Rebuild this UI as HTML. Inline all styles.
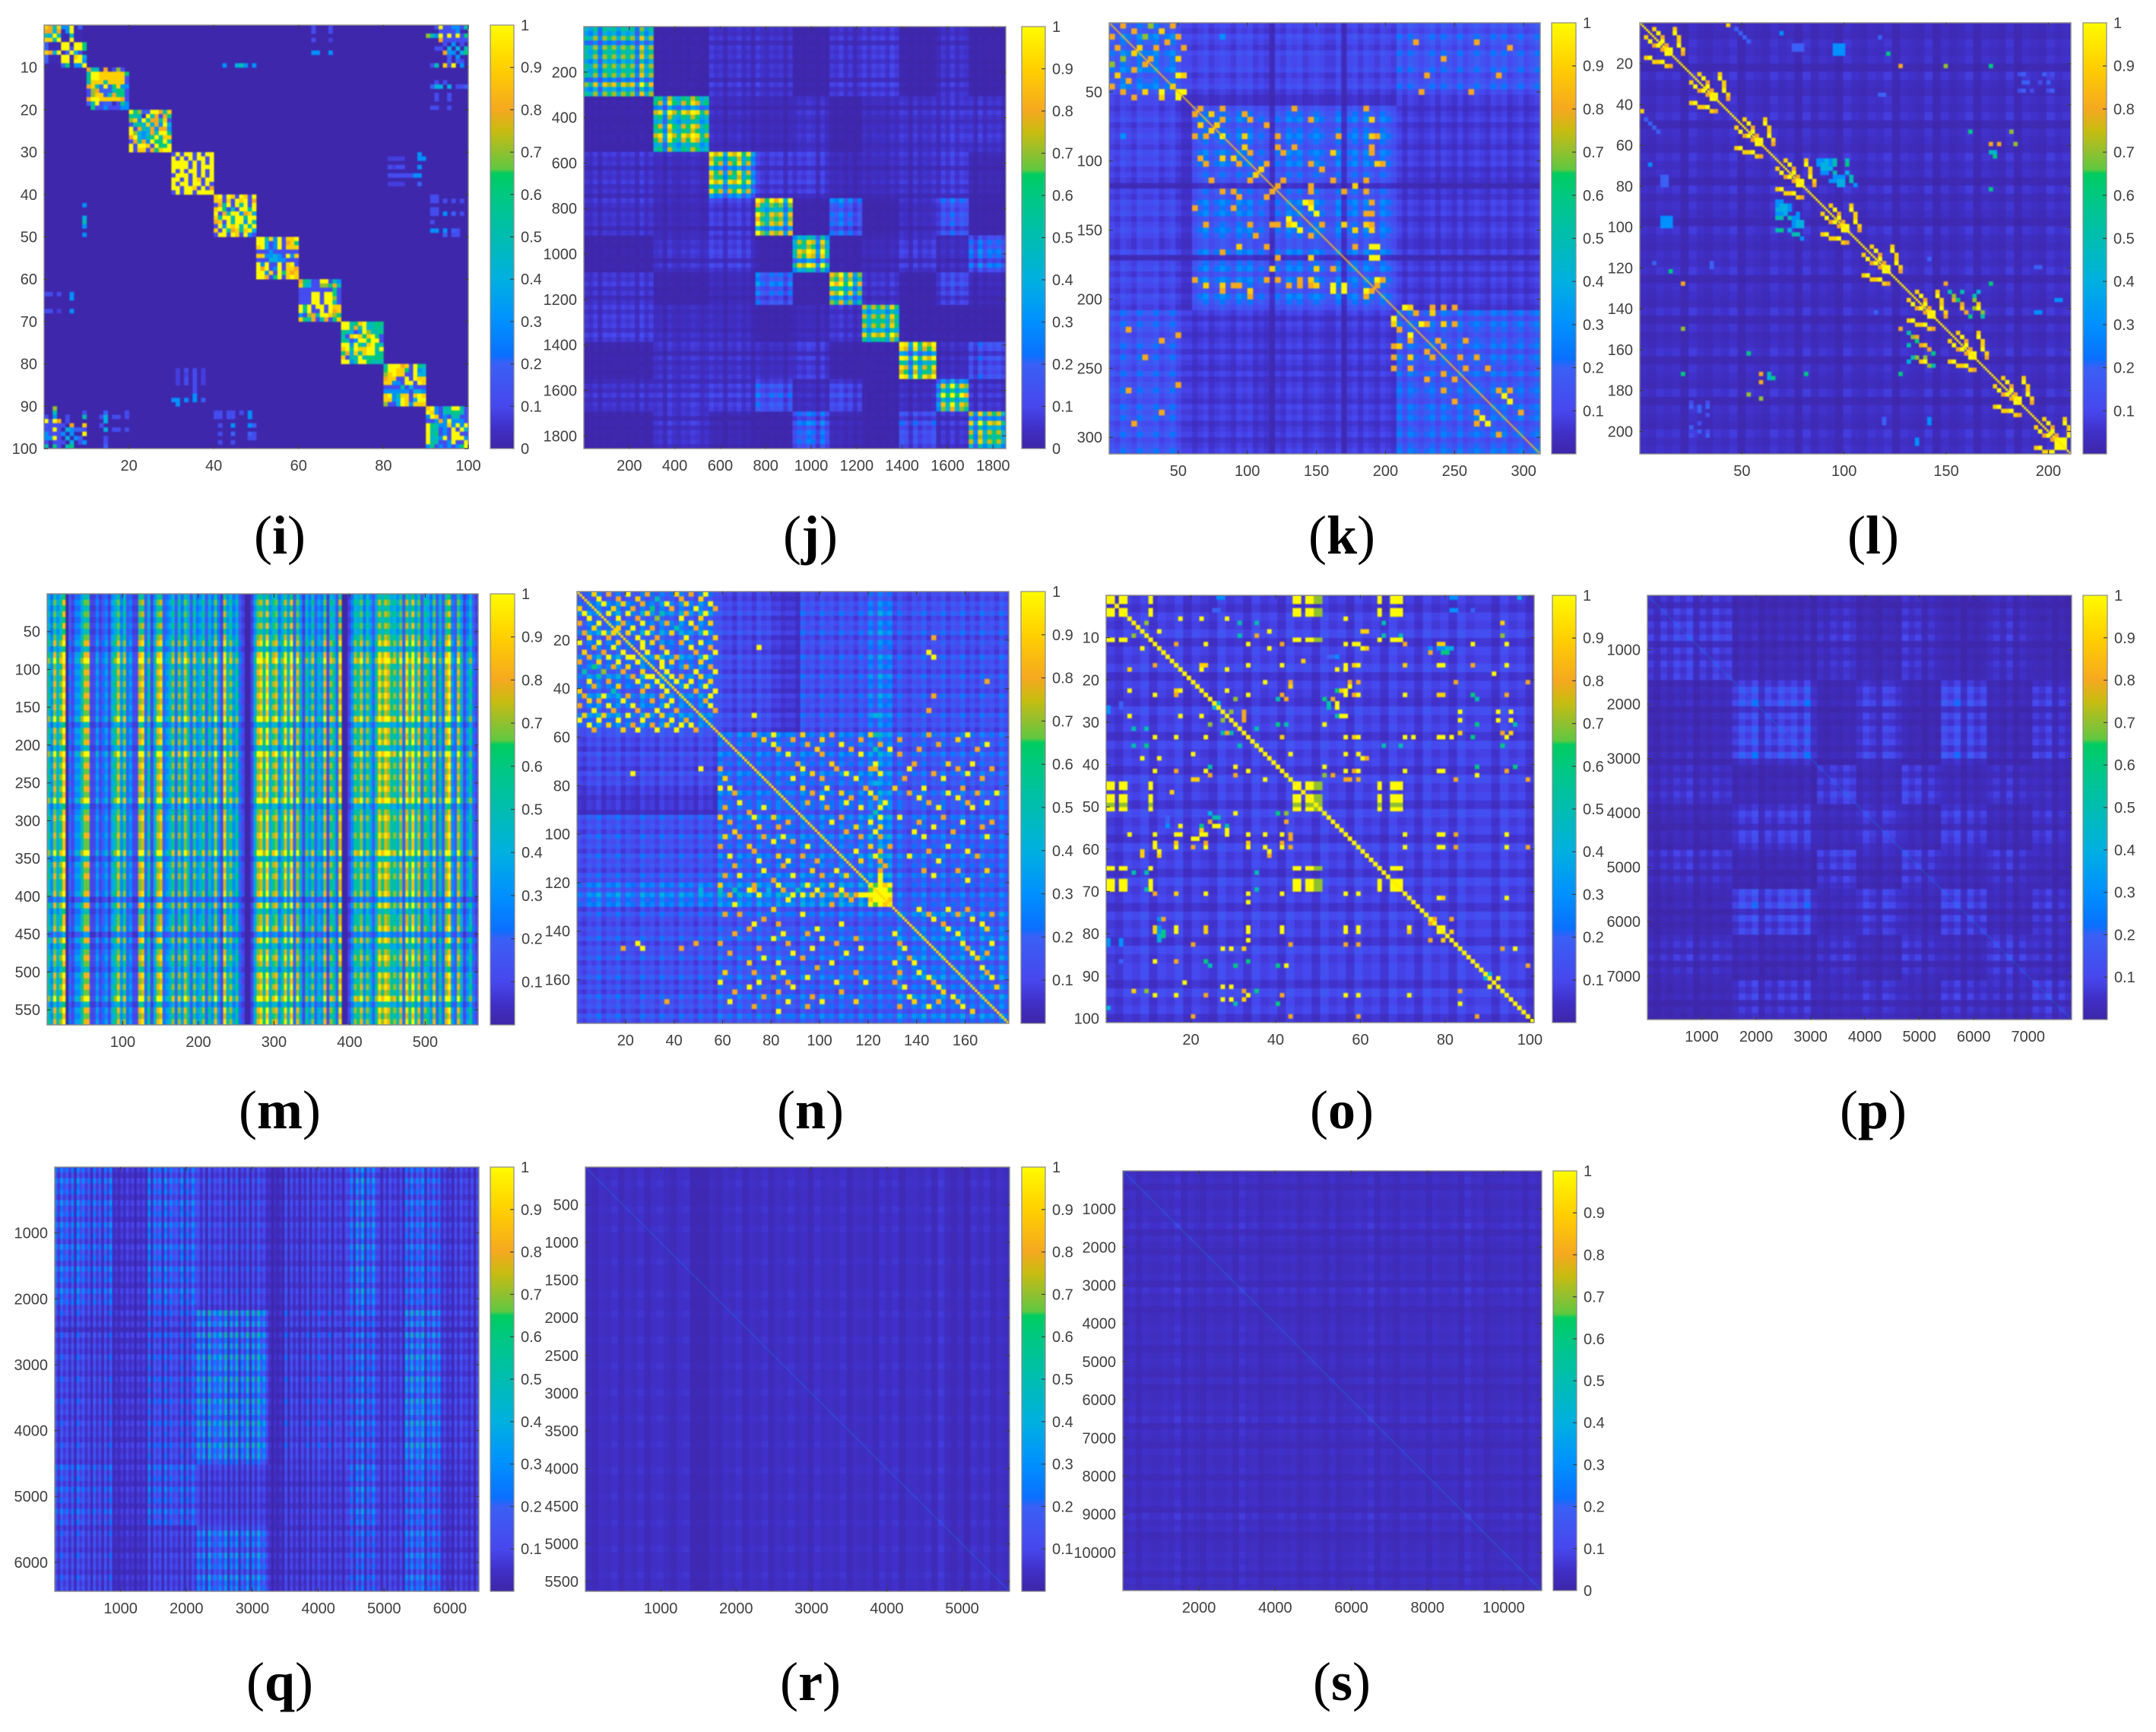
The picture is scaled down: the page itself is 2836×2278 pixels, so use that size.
<!DOCTYPE html>
<html>
<head>
<meta charset="utf-8">
<title>Similarity matrices (i)–(s)</title>
<style>
html,body{margin:0;padding:0;background:#fff;}
svg{display:block;}
.tick{font-family:"Liberation Sans",Arial,sans-serif;font-size:20px;fill:#404040;}
.cap{font-family:"Liberation Serif","Times New Roman",serif;font-size:72px;fill:#000;text-anchor:middle;}
.cap tspan.l{font-weight:bold;}
</style>
</head>
<body>
<svg id="figure" xmlns="http://www.w3.org/2000/svg" width="2836" height="2278" viewBox="0 0 2836 2278">
<defs>
<filter id="soft" x="-2%" y="-2%" width="104%" height="104%" color-interpolation-filters="sRGB"><feGaussianBlur stdDeviation="0.9"/></filter>
<linearGradient id="parulaBar" x1="0" y1="1" x2="0" y2="0"></linearGradient>
</defs>
<rect width="2836" height="2278" fill="#fff"/>
<text class="cap" x="368" y="728">(<tspan class="l">i</tspan>)</text>
<text class="cap" x="1066" y="728">(<tspan class="l">j</tspan>)</text>
<text class="cap" x="1765" y="728">(<tspan class="l">k</tspan>)</text>
<text class="cap" x="2464" y="728">(<tspan class="l">l</tspan>)</text>
<text class="cap" x="368" y="1484">(<tspan class="l">m</tspan>)</text>
<text class="cap" x="1066" y="1484">(<tspan class="l">n</tspan>)</text>
<text class="cap" x="1765" y="1484">(<tspan class="l">o</tspan>)</text>
<text class="cap" x="2464" y="1484">(<tspan class="l">p</tspan>)</text>
<text class="cap" x="368" y="2236">(<tspan class="l">q</tspan>)</text>
<text class="cap" x="1066" y="2236">(<tspan class="l">r</tspan>)</text>
<text class="cap" x="1765" y="2236">(<tspan class="l">s</tspan>)</text>
</svg>
<script>
/* ---------- value levels used by the sparse cell rows ---------- */
const levelChars = '0123456789abc';
const levelValues = [.02,.05,.08,.12,.2,.3,.4,.5,.6,.7,.8,.9,1];

/* ---------- tick labels ---------- */
const colorTicksFull = ['0','0.1','0.2','0.3','0.4','0.5','0.6','0.7','0.8','0.9','1'];
const colorTicksNoZero = ['0.1','0.2','0.3','0.4','0.5','0.6','0.7','0.8','0.9','1'];
const xTicksI = [20,40,60,80,100];
const yTicksI = [10,20,30,40,50,60,70,80,90,100];
const xTicksJ = [200,400,600,800,1000,1200,1400,1600,1800];
const yTicksJ = [200,400,600,800,1000,1200,1400,1600,1800];
const xTicksK = [50,100,150,200,250,300];
const yTicksK = [50,100,150,200,250,300];
const xTicksL = [50,100,150,200];
const yTicksL = [20,40,60,80,100,120,140,160,180,200];
const xTicksM = [100,200,300,400,500];
const yTicksM = [50,100,150,200,250,300,350,400,450,500,550];
const xTicksN = [20,40,60,80,100,120,140,160];
const yTicksN = [20,40,60,80,100,120,140,160];
const xTicksO = [20,40,60,80,100];
const yTicksO = [10,20,30,40,50,60,70,80,90,100];
const xTicksP = [1000,2000,3000,4000,5000,6000,7000];
const yTicksP = [1000,2000,3000,4000,5000,6000,7000];
const xTicksQ = [1000,2000,3000,4000,5000,6000];
const yTicksQ = [1000,2000,3000,4000,5000,6000];
const xTicksR = [1000,2000,3000,4000,5000];
const yTicksR = [500,1000,1500,2000,2500,3000,3500,4000,4500,5000,5500];
const xTicksS = [2000,4000,6000,8000,10000];
const yTicksS = [1000,2000,3000,4000,5000,6000,7000,8000,9000,10000];

/* ---------- panel (i): explicit cells, "column:values" segments per row ---------- */
const cellsI = [
"0:ba7b55c04 63:3 67:3 92:3c335537","0:aa6a05c 63:3 67:3 93:33335","0:76c7007 90:975c3c3c38","0:bb7c00c 63:3 67:2 93:a3333338",
"0:4000cc0cc8 94:3 96:5 98:3","0:4000cc3cc8 92:33 95:6 97:6 99:7","0:ba6c04c63 63:55 67:5 94:a5 96:5 98:6 99:8","0:4000cc0bc6 95:4 97:5",
"0:4000cc0cc5 95:4 97:4 98:3","4:48 7:55c 42:5 45:67 47:5 49:5 91:37 94:b3 96:c 98:5",
"10:a770a0393","10:7ccbbbbbb8","10:8ccbbbbbb3","10:7bbb7bbbb3 92:3 94:3","10:ab74c48b55 91:466 95:6 97:33 99:4","10:39a4447883","10:39bb47a883 92:3 95:3","10:accbbbbba3 92:3 95:3","10:47c3440385","19:5 91:33 95:3",
"20:c8944cca7b","20:8770c7a3a8","20:9b5c7aa7b3","20:3786b6a5c6","20:c3a76a5aa5","20:c9656a7cc8","20:ac6578c7bb","20:3a7a5c88c7","20:c3ccb3c88c","20:c3bb3a8bcc",
"30:3c3cc3c3cc 88:5","30:c3c3c3cc3c 81:2222 88:55","30:cccc3c3c3c","30:cccc3c3ccc 81:3233 88:5","30:c3c3cc3c3c","30:3ccc3c3c3c 81:333333 87:5 88:5","30:cc3c3cb3cc","30:c3cc3cc3c3 81:2222 88:4","30:cc3ccb3c3a","30:3c3cc3cccc",
"40:bc3cb3cb3c 91:33","40:bb3b3cbc3a 91:33 94:3 96:3 98:3","40:3a7c3c7c3c","40:bc8373cc7c 91:33","40:c3a7cc5ab6 91:33 94:5 96:4 98:3","40:b7cc7cc7cc","40:ab3c7cc5c7 91:3","40:3c5cbc7c7c","40:b3c7ab7bc6 91:55 94:5 96:4 97:3","40:3cc3cb3c53 94:4 96:3 97:3",
"50:cc7b5c3bbc","50:cc635c3ab8","50:bc635c3bbb","50:3335333333","50:bb55653c5b","50:3336655333","50:c5c33c3bc3","50:cac35c3bba","50:cc5b3c8bab","50:cca38c3bcb",
"60:a8733cc375","60:b7633998a7","60:3333333383","60:333cc3cc83","60:333cc3cc93","60:333cc3cc73","60:c8c3cc3cbb","60:c7c33c3cab","60:539a7ccb98","60:b87a37a38b",
"70:cc78bc7788","70:cc7a7c6787","70:87635c9778","70:73bcb8bc83","70:8735cc8cc3","70:cc5c86bc87","70:bc7cbbcc7c","70:8a6b7bcc78","70:b377c78888","70:cc57cc8777",
"80:7cccab3c87","80:8ccbb83c56","80:9bcbb33c66","80:abb33c3cbb","80:bb553cc3cb","80:3333736333","80:5555553665","80:bc57bb3bcb","80:bb56cb36cc","80:9336cb5bbb",
"90:bc5377cc73","90:cb53778873","90:5cb3537733","90:335a5c5553","90:c8755b5c5c","90:c77353c3c6","90:c78353cc33","90:c675c3ccc5","90:c77335c33c","90:583535358c"
];

/* ---------- panel (j): block means and stripe profile ---------- */
const edgesJ = [0,310,560,745,910,1080,1225,1390,1550,1690,1856];
const meansJ = [
[.46,.008,.045,.045,.008,.05,.06,.008,.045,.008],
[.008,.5,.03,.022,.038,.008,.03,.038,.05,.045],
[.045,.03,.5,.06,.06,.022,.03,.038,.06,.015],
[.045,.022,.06,.55,.008,.16,.008,.03,.13,.008],
[.008,.038,.06,.008,.48,.008,.022,.05,.03,.15],
[.05,.008,.022,.16,.008,.55,.045,.008,.09,.022],
[.06,.03,.03,.008,.022,.045,.48,.008,.008,.008],
[.008,.038,.038,.03,.05,.008,.008,.5,.03,.1],
[.045,.05,.06,.13,.03,.09,.008,.03,.55,.05],
[.008,.045,.015,.008,.15,.022,.008,.1,.05,.48]];
const stripesJ = "4352545354526354526435465346452546352643545253546526354635245354536465263546253635452635453";

/* ---------- panel (k) ---------- */
const edgesK = [0,60,210,312];
const meansK = [[.2,.1,.15],[.1,.19,.07],[.15,.07,.17]];
const stripesK = "435435445345322345345435453431435453454335145354354353543453543534543545345345";
const cellsK = [
"2:a 7:9 11:a","4:a 9:b","6:9 12:a 20:5","10:a 55:a 66:a","5:b 8:a 13:a 72:a","","7:a 12:b 60:a","","","12:c 13:b 57:a 70:a",
"","11:b","12:c 13:c 56:a 65:a","","","16:a 20:a 33:a 46:a","18:b 24:a","20:a 25:a 36:a 47:b","19:b 28:a","",
"20:c 24:b 30:a 41:a 47:b 48:a","","24:b 30:a 33:a 47:a","25:a 31:a 40:b 47:a","","28:a 36:a 48:b 49:a","27:b 38:a","",
"31:a 40:a 46:a","30:a 36:a 44:b","36:a 42:a 46:a","","35:c 36:b 47:a","36:c","37:c 46:a 47:a","","38:a 42:b 46:b 47:a",
"44:b 47:b","","","44:a 47:c 48:c","","47:c 48:c","","","","48:c 49:a","48:a","","","",
"53:c 54:b 58:a 60:a 62:a","55:a 58:b","","56:c 57:a 60:b 62:a","","","59:a 64:a","60:a","","63:a 66:a","","64:a 68:a","","","",
"70:a 72:a","71:c","72:c","","74:a","","",""
];

/* ---------- panel (l) ---------- */
const edgesL = [0,211];
const meansL = [[.035]];
const stripesL = "43545264354625436452635426435462543625346254362543645";
const cellsL = [
"21:b","3:b 8:b 23:4","4:c 8:c 24:4 34:5","5:a 9:b 25:4 58:4","5:c 9:b 26:4","6:a 9:c 37:444 47:555","6:cc 10:b 37:444 47:555","7:c 10:a 47:555 60:8","","",
"63:a 74:9 85:8","","14:b 19:b 92:34 98:4 100:3","15:c 19:c","16:a 20:b 93:44 97:3 99:4","16:c 20:b","17:a 20:c 92:34 95:3 99:34","17:cc 21:b 58:44","18:c 21:a","",
"","","","25:b 30:b","26:c 30:c","27:a 31:b","27:c 31:b 80:8 90:9","28:a 31:c","28:cc 32:b","29:c 32:a 85:a 87:a 91:9",
"","85:7 86:6","86:8","35:b 40:b 43:5565 47:7 50:7","36:c 40:c 43:5665 47:7 50:8","37:a 41:b 44:666","37:c 41:b 44:55 47:7 50:6","38:a 41:c 47:5 48:55 51:7","38:cc 42:b 46:5 47:5 48:66 51:7","39:c 42:a 48:66 52:5",
"85:8","","","","46:b 51:b","47:c 51:c","48:a 52:b","48:c 52:b","49:a 52:c","49:cc 53:b",
"50:c 53:a","","","","56:b 61:b","57:c 61:c","58:a 62:b","58:c 62:b 70:4","59:a 62:c","59:cc 63:b 96:44",
"60:c 63:a","","","74:a 85:8","","67:b 72:b 75:7 78:7 82:6","68:c 72:c 76:9 81:7","69:a 73:b 76:a 77:8 81:9 101:55","69:c 73:b 78:a 82:b","70:a 73:c 78:b 81:9 82:c",
"70:cc 74:b 79:a 83:9 96:55","71:c 74:a 80:8 83:7","","","","77:b 82:b","78:c 82:c","79:a 83:b","79:c 83:b","80:a 83:c",
"80:cc 84:b","81:c 84:a","","","","","88:b 93:b","89:c 93:c","90:a 94:b","90:c 94:b",
"91:a 94:c","91:cc 95:b","92:c 95:a","","","","98:b 103:b","99:c 103:c","100:a 104:b","100:c 104:b",
"101:a 104:c","101:ccc","101:ccc","101:ccc"
];

/* ---------- panel (m) ---------- */
const edgesM = [0,570];
const meansM = [[.38]];
const colStripesM = "5374690213357711312314573623117825147823462637526346253731846352100147859467358492741536243716528001365736425868756472859472653725279327413521";
const rowStripesM = "34343434535645454545463545364545454634544544635454452534452534543545463545";

/* ---------- panel (n) ---------- */
const edgesN = [0,58,82,92,120,130,178];
const meansN = [
[.18,.09,.05,.11,.18,.11],
[.09,.15,.15,.15,.2,.13],
[.05,.15,.15,.15,.2,.13],
[.11,.15,.15,.16,.22,.14],
[.18,.2,.2,.22,.7,.14],
[.11,.13,.13,.14,.14,.17]];
const stripesN = "43546354635436453645364536453645364536453645536453645364536453645364354635463546353645364";
const cellsN = [
"3:b 6:a 10:c 14:a 20:b 23:a 26:c","4:c 8:a 12:b 16:7 21:a 25:b","5:c 9:b 13:a 18:c 22:b 27:c","7:b 11:a 15:8 19:a 24:c 28:a","6:c 10:c 14:b 17:7 22:a 26:c",
"8:c 12:a 16:9 21:c 25:b","9:a 13:c 18:a 23:c 27:b","8:b 11:c 15:a 20:7 24:a","10:b 14:c 19:b 26:c","12:c 16:a 22:c 28:b 73:a",
"13:c 15:b 21:a 25:c","13:c 17:a 23:c 27:a 37:c","14:c 18:c 24:a 28:c","16:b 20:a 26:c 73:c","17:c 19:b 25:b",
"17:c 22:a 27:a","18:c 24:c 28:c","19:c 21:a 25:b","20:c 23:c 27:b 84:a","22:c 26:c",
"24:a 28:c","27:c 73:a","26:a","27:c","28:a 72:a","36:c","","","",
"36:a 40:c 46:b 52:a 60:b 72:a 80:c","38:b 44:a 50:b 58:a 66:a 78:b","40:c 47:a 54:c 62:a 74:a 84:c","41:a 49:b 56:a 64:c 70:a 82:a","43:c 50:a 58:c 66:a","",
"45:a 52:b 61:c 69:a 76:b 81:c","46:c 53:a 60:a 68:c 78:a 85:a","48:b 55:c 62:c 73:a 80:c","44:c 50:a 57:c 67:a 75:c 83:a","",
"46:b 51:c 59:a 65:b 71:c 79:a","48:a 54:b 60:c 68:a 76:c 82:a 86:c","50:c 56:a 61:a 70:c 78:c","47:a 55:c 63:c 72:a 80:a 84:c","51:a 58:c 62:c 74:c 81:c","",
"54:a 62:c 66:c 75:a","52:c 60:c 70:a 79:c 85:a","57:b 62:b 73:c 83:a","55:a 61:c 69:c 77:a","58:a 62:a 71:c 84:c","",
"60:b 64:a 76:c","57:c 62:a 72:a 80:c","61:c 68:c 82:a","58:b 62:a 74:c","63:a",
"62:a 71:a 78:a 84:b","62:c 73:c","62:c 80:c","",
"61:ccc 25:6 29:7 32:7 36:a 39:6 45:7","61:ccc","61:ccc","",
"70:c 76:c 80:a","72:a 78:a 85:a","73:c 81:c","75:a 83:c","76:c 84:b","78:c","",
"12:c 79:c 85:c","80:a","81:c 84:a","82:b","","83:c","84:a","85:c","","86:b","","","","","","",""
];

/* ---------- panel (o) ---------- */
const edgesO = [0,101];
const meansO = [[.07]];
const stripesO = "43546354635436453645364536453645364536453645536453";
const cellsO = [
"0:cc 3:cc 10:c 44:cc 47:cc99 64:c 67:ccc 26:55 81:55 97:6","0:cc 3:cc 10:c 44:cc 47:cc99 64:c 67:ccc","","0:cc 3:cc 10:c 44:cc 47:cc99 64:c 67:ccc 25:44 81:55 86:4","0:cc 3:cc 10:c 44:cc 47:cc99 64:c 67:ccc",
"17:c 22:c 28:c","31:7 35:7 65:7 93:b","","12:c 38:c 60:b","6:9 31:7 35:a 65:7 69:7 93:9",
"0:cc 3:cc 10:c 44:cc 47:cc99 64:c 67:ccc","16:a 23:c 33:c 41:a 56:c 58:c 70:a 78:b 79:b 86:c 94:c","8:c 38:c 60:c 76:5 78:55 80:66","13:a 76:a 79:8 80:8","52:44 54:5",
"46:b","11:a 22:b 23:b 33:c 41:c 56:c 58:b 70:b 78:c 79:c 86:a 94:c","5:b 22:c 28:c 54:c","91:c","",
"37:c 43:a 57:a 59:a 82:a 99:a","","5:c 17:c 28:c 54:8 55:b","11:c 16:a 33:c 41:a 56:c 58:a 70:c 78:b 79:b 86:8 94:a","30:9 40:7 42:a 51:8 53:a 87:7",
"25:66 52:7 54:c","25:66 52:7 54:c","32:a 83:c 92:c 95:c","5:c 17:c 22:c 32:a 54:7 55:c","27:9 32:a 83:c 92:c 95:c",
"40:8 42:7 51:c 87:8 96:7","","27:7 29:7 83:b 93:a 95:b","11:c 16:c 23:c 41:b 56:c 58:b 70:c 72:c 78:c 79:c 81:c 86:8 94:c","",
"6:7 9:8 31:7 65:7 69:7 93:8","","","8:c 12:c 60:c","",
"24:7 30:c 51:c 87:8 96:8","11:c 16:a 23:c 33:c 56:c 58:a 70:c 78:c 79:c 94:a","24:a 30:a 51:9 53:a 87:c","20:b 21:b 37:c 57:a 59:a 82:a 99:a",
"0:cc 3:cc 10:c 44:cc 47:cc99 64:c 67:ccc","0:cc 3:cc 10:c 44:cc 47:cc99 64:c 67:ccc","","0:cc 3:cc 10:c 44:cc 47:cc99 64:c 67:ccc","0:cc 3:cc 10:c 44:cc 47:cc99 64:c 67:ccc","",
"0:cc 3:cc 10:c 44:cc 47:cc99 64:c 67:ccc","24:6 30:c 40:8","","","",
"","5:c 17:c 22:c 28:c 11:c 16:c 23:c 33:c 37:c 41:c 43:a 70:c 78:c 79:c 82:a 94:c","20:c 21:c","","11:c 16:c 23:c 33:c 37:c 41:c 43:a 70:c 78:c 79:c 82:a 94:c 99:a",
"","8:b 12:b 38:a","","","0:cc 3:cc 10:c 44:cc 47:cc99 64:c 67:ccc",
"","","0:cc 3:cc 10:c 44:cc 47:cc99 64:c 67:ccc","0:cc 3:cc 10:c 44:cc 47:cc99 64:c 67:ccc","0:cc 3:cc 10:c 44:cc 47:cc99 64:c 67:ccc",
"","78:c 79:b 94:c","","","",
"","77:a 81:a","","78:cc","78:cc 81:b",
"","","","93:a 96:c","",
"","","99:a","","89:66",
"89:66 92:c","","","","",
"","","","",""
];

/* ---------- panel (p) ---------- */
const edgesP = [0,1560,3130,3900,4680,5400,6250,7100,7800];
const meansP = [
[.055,.02,.032,.018,.036,.014,.032,.014],
[.02,.078,.014,.055,.014,.07,.018,.042],
[.032,.014,.046,.02,.046,.018,.032,.02],
[.018,.055,.02,.05,.02,.05,.02,.036],
[.036,.014,.046,.02,.046,.02,.036,.018],
[.014,.07,.018,.05,.02,.055,.02,.036],
[.032,.018,.032,.02,.036,.02,.046,.028],
[.014,.042,.02,.036,.018,.036,.028,.046]];
const stripesP = "42536472536453647253646372536475364265374625364726354637253647253";

/* ---------- panel (q) ---------- */
const edgesRowsQ = [0,2200,4500,5400,6440];
const edgesColsQ = [0,900,1400,2150,3250,3500,4450,4900,5300,5900,6440];
const meansQ = [
[.13,.055,.13,.08,.03,.07,.17,.07,.13,.07],
[.085,.055,.1,.2,.03,.085,.14,.07,.18,.07],
[.11,.05,.12,.07,.03,.06,.15,.07,.13,.055],
[.085,.042,.07,.155,.035,.06,.12,.07,.14,.055]];
const colStripesQ = "62736261736251625162714252635153527163617263527162736261725362716271527162735261526271625152716273527163516251627152625162735261627263715262515241627352617";
const rowStripesQ = "53645364536453645364536453635263536453645364536453645364536453645364536453645";

/* ---------- panel (r) ---------- */
const edgesR = [0,5630];
const meansR = [[.034]];
const colStripesR = "43546354635643562224354635463546453645463545364635546374352646354";
const rowStripesR = "44544454454444544445445444544454445444544454445444544454445444544";

/* ---------- panel (s) ---------- */
const edgesS = [0,11000];
const meansS = [[.034]];
const stripesS = "45354454635435445364534454534543534454635435445354453645344545354";

/* ---------- shared colour scale ---------- */
const colorStops = [[0,'#3e26a8'],[.05,'#4030c8'],[.1,'#4747ee'],[.2,'#3a60f5'],[.22,'#0a70ff'],[.3,'#0090ff'],[.4,'#00b0e0'],[.5,'#00bdb0'],[.6,'#00c880'],[.65,'#00cc60'],[.66,'#60c840'],[.7,'#90c030'],[.75,'#c8bc10'],[.8,'#f5a820'],[.9,'#ffd000'],[1,'#fffb00']];

const panels = [
{id:'i',N:100,box:[58,616,33,590],cb:[645,676],xt:xTicksI,yt:yTicksI,ct:colorTicksFull,cells:cellsI,cellN:100},
{id:'j',N:1856,box:[768,1323,35,590],cb:[1344,1375],xt:xTicksJ,yt:yTicksJ,ct:colorTicksFull,eR:edgesJ,eC:edgesJ,means:meansJ,sC:stripesJ,sR:stripesJ},
{id:'k',N:312,box:[1459,2026,30,597],cb:[2041,2073],xt:xTicksK,yt:yTicksK,ct:colorTicksNoZero,eR:edgesK,eC:edgesK,means:meansK,sC:stripesK,sR:stripesK,cells:cellsK,cellN:78,diag:.85},
{id:'l',N:211,box:[2157,2724,30,597],cb:[2740,2771],xt:xTicksL,yt:yTicksL,ct:colorTicksNoZero,eR:edgesL,eC:edgesL,means:meansL,sC:stripesL,sR:stripesL,cells:cellsL,cellN:105,diag:.95},
{id:'m',N:570,box:[62,629,781,1348],cb:[645,677],xt:xTicksM,yt:yTicksM,ct:colorTicksNoZero,eR:edgesM,eC:edgesM,means:meansM,sC:colStripesM,sR:rowStripesM},
{id:'n',N:178,box:[759,1327,778,1346],cb:[1343,1375],xt:xTicksN,yt:yTicksN,ct:colorTicksNoZero,eR:edgesN,eC:edgesN,means:meansN,sC:stripesN,sR:stripesN,cells:cellsN,cellN:89,diag:.92},
{id:'o',N:101,box:[1455,2018,783,1345],cb:[2042,2073],xt:xTicksO,yt:yTicksO,ct:colorTicksNoZero,eR:edgesO,eC:edgesO,means:meansO,sC:stripesO,sR:stripesO,cells:cellsO,cellN:101,diag:.98},
{id:'p',N:7800,box:[2167,2725,783,1341],cb:[2740,2772],xt:xTicksP,yt:yTicksP,ct:colorTicksNoZero,eR:edgesP,eC:edgesP,means:meansP,sC:stripesP,sR:stripesP,diag:.3},
{id:'q',N:6440,box:[72,630,1535,2093],cb:[645,676],xt:xTicksQ,yt:yTicksQ,ct:colorTicksNoZero,eR:edgesRowsQ,eC:edgesColsQ,means:meansQ,sC:colStripesQ,sR:rowStripesQ},
{id:'r',N:5630,box:[770,1328,1535,2093],cb:[1344,1375],xt:xTicksR,yt:yTicksR,ct:colorTicksNoZero,eR:edgesR,eC:edgesR,means:meansR,sC:colStripesR,sR:rowStripesR,diag:.3},
{id:'s',N:11000,box:[1477,2028,1540,2092],cb:[2043,2074],xt:xTicksS,yt:yTicksS,ct:colorTicksFull,eR:edgesS,eC:edgesS,means:meansS,sC:stripesS,sR:stripesS,diag:.35}
];

const NS = 'http://www.w3.org/2000/svg';
const root = document.getElementById('figure');

function hexRgb(h){return [parseInt(h.substr(1,2),16),parseInt(h.substr(3,2),16),parseInt(h.substr(5,2),16)];}
const stopRgb = colorStops.map(s=>hexRgb(s[1]));
function colorOf(v){
  v = Math.max(0,Math.min(1,v));
  for(let i=1;i<colorStops.length;i++){
    if(v<=colorStops[i][0]){
      const t=(v-colorStops[i-1][0])/(colorStops[i][0]-colorStops[i-1][0]);
      const a=stopRgb[i-1],b=stopRgb[i];
      return 'rgb('+Math.round(a[0]+(b[0]-a[0])*t)+','+Math.round(a[1]+(b[1]-a[1])*t)+','+Math.round(a[2]+(b[2]-a[2])*t)+')';
    }
  }
  return colorStops[colorStops.length-1][1];
}

const grad = document.getElementById('parulaBar');
colorStops.forEach(s=>{
  const st=document.createElementNS(NS,'stop');
  st.setAttribute('offset',s[0]);
  st.setAttribute('stop-color',s[1]);
  grad.appendChild(st);
});

function blockIndex(edges,u){
  for(let i=0;i<edges.length-1;i++){ if(u<edges[i+1]) return i; }
  return edges.length-2;
}
function parseCells(rows){
  const m=new Map();
  rows.forEach((row,r)=>{
    row.split(' ').forEach(seg=>{
      if(seg.indexOf(':')<0) return;
      const parts=seg.split(':');
      const start=+parts[0];
      for(let k=0;k<parts[1].length;k++){
        const idx=levelChars.indexOf(parts[1][k]);
        if(idx>=0) m.set(r*100000+start+k,levelValues[idx]);
      }
    });
  });
  Array.from(m.entries()).forEach(e=>{
    const r=Math.floor(e[0]/100000),c=e[0]%100000,key=c*100000+r;
    if(!m.has(key)) m.set(key,e[1]);
  });
  return m;
}

panels.forEach(p=>{
  const L=p.box[0],R=p.box[1],T=p.box[2],B=p.box[3];
  const xScale=u=>L+(u/p.N)*(R-L);
  const yScale=u=>T+(u/p.N)*(B-T);

  const panel=document.createElementNS(NS,'g');
  
  
  root.appendChild(panel);

  const clip=document.createElementNS(NS,'clipPath');
  clip.setAttribute('id','clip-'+p.id);
  const clipRect=document.createElementNS(NS,'rect');
  clipRect.setAttribute('x',L);clipRect.setAttribute('y',T);
  clipRect.setAttribute('width',R-L);clipRect.setAttribute('height',B-T);
  clip.appendChild(clipRect);
  panel.appendChild(clip);

  const clipGroup=document.createElementNS(NS,'g');
  clipGroup.setAttribute('clip-path','url(#clip-'+p.id+')');
  panel.appendChild(clipGroup);
  const plot=document.createElementNS(NS,'g');
  plot.setAttribute('filter','url(#soft)');
  
  
  clipGroup.appendChild(plot);

  const bg=document.createElementNS(NS,'rect');
  bg.setAttribute('x',L-4);bg.setAttribute('y',T-4);
  bg.setAttribute('width',R-L+8);bg.setAttribute('height',B-T+8);
  bg.setAttribute('fill',colorOf(.005));
  
  
  plot.appendChild(bg);

  function addCell(u0,v0,du,dv,val){
    const rc=document.createElementNS(NS,'rect');
    const x0=xScale(u0),y0=yScale(v0);
    rc.setAttribute('x',x0.toFixed(1));
    rc.setAttribute('y',y0.toFixed(1));
    rc.setAttribute('width',(xScale(u0+du)-x0+.3).toFixed(1));
    rc.setAttribute('height',(yScale(v0+dv)-y0+.3).toFixed(1));
    rc.setAttribute('fill',colorOf(val));
    
    
    plot.appendChild(rc);
  }

  if(p.means){
    const nc=p.sC.length,nr=p.sR.length;
    const du=p.N/nc,dv=p.N/nr;
    for(let r=0;r<nr;r++){
      const br=blockIndex(p.eR,(r+.5)*dv);
      const sr=(+p.sR[r])/4;
      for(let c=0;c<nc;c++){
        const bc=blockIndex(p.eC,(c+.5)*du);
        const val=p.means[br][bc]*sr*(+p.sC[c])/4;
        if(val<.012) continue;
        addCell(c*du,r*dv,du,dv,val);
      }
    }
  }
  if(p.cells){
    const map=parseCells(p.cells);
    const du=p.N/p.cellN;
    map.forEach((val,key)=>{
      const r=Math.floor(key/100000),c=key%100000;
      addCell(c*du,r*du,du,du,val);
    });
  }
  if(p.diag){
    if(p.N<=400){
      for(let d=0;d<p.N;d++){ addCell(d,d,1,1,p.diag); }
    }else{
      const ln=document.createElementNS(NS,'line');
      ln.setAttribute('x1',xScale(0));ln.setAttribute('y1',yScale(0));
      ln.setAttribute('x2',xScale(p.N));ln.setAttribute('y2',yScale(p.N));
      ln.setAttribute('stroke',colorOf(p.diag));
      ln.setAttribute('stroke-width','1.4');
      ln.setAttribute('opacity','.3');
      
      
      plot.appendChild(ln);
    }
  }

  const frame=document.createElementNS(NS,'rect');
  frame.setAttribute('x',L);frame.setAttribute('y',T);
  frame.setAttribute('width',R-L);frame.setAttribute('height',B-T);
  frame.setAttribute('fill','none');frame.setAttribute('stroke','#8a8a8a');frame.setAttribute('stroke-width','1.4');
  
  
  panel.appendChild(frame);

  function addTick(x1,y1,x2,y2){
    const t=document.createElementNS(NS,'line');
    t.setAttribute('x1',x1);t.setAttribute('y1',y1);t.setAttribute('x2',x2);t.setAttribute('y2',y2);
    t.setAttribute('stroke','#404040');t.setAttribute('stroke-width','1.2');
    
    
    panel.appendChild(t);
  }
  function addLabel(x,y,txt,anchor,name){
    const t=document.createElementNS(NS,'text');
    t.setAttribute('class','tick');
    t.setAttribute('x',x);t.setAttribute('y',y);
    t.setAttribute('text-anchor',anchor);
    t.textContent=txt;
    
    
    panel.appendChild(t);
  }
  p.xt.forEach(v=>{
    const x=xScale(v);
    addTick(x,B,x,B-5);addTick(x,T,x,T+5);
    addLabel(x,B+29,String(v),'middle','x-tick-label');
  });
  p.yt.forEach(v=>{
    const y=yScale(v);
    addTick(L,y,L+5,y);addTick(R,y,R-5,y);
    addLabel(L-9,y+7,String(v),'end','y-tick-label');
  });

  const bar=document.createElementNS(NS,'rect');
  bar.setAttribute('x',p.cb[0]);bar.setAttribute('y',T);
  bar.setAttribute('width',p.cb[1]-p.cb[0]);bar.setAttribute('height',B-T);
  bar.setAttribute('fill','url(#parulaBar)');bar.setAttribute('stroke','#8a8a8a');bar.setAttribute('stroke-width','1.2');
  
  
  panel.appendChild(bar);
  p.ct.forEach(lbl=>{
    const y=B-(+lbl)*(B-T);
    if(lbl!=='0'&&lbl!=='1') addTick(p.cb[1],y,p.cb[1]-5,y);
    addLabel(p.cb[1]+9,y+7,lbl,'start','colorbar-tick-label');
  });
});
</script>
</body>
</html>
